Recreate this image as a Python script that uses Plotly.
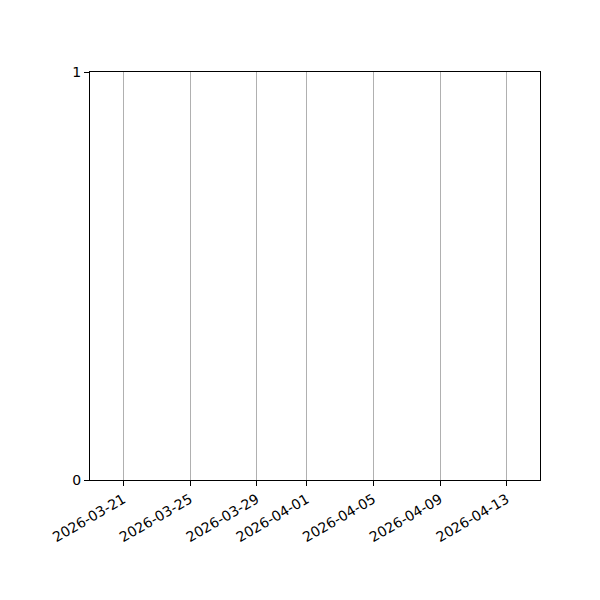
import plotly.graph_objects as go

# tick dates shown on the x axis (matplotlib AutoDateLocator style)
tick_dates = ["2026-03-21", "2026-03-25", "2026-03-29", "2026-04-01",
              "2026-04-05", "2026-04-09", "2026-04-13"]
x_range = ["2026-03-19", "2026-04-15"]
y_ticks = [0, 1]

# the chart has no data marks, only the empty date axis
series_x = []
series_y = []

fig = go.Figure()
fig.add_trace(go.Scatter(x=series_x, y=series_y, mode="lines", showlegend=False))

fig.update_layout(
    width=600,
    height=600,
    margin=dict(l=82, r=68, t=64, b=128),
    plot_bgcolor="white",
    paper_bgcolor="white",
    font=dict(family="DejaVu Sans", size=14, color="black"),
    showlegend=False,
)

fig.update_xaxes(
    type="date",
    range=x_range,
    tickvals=tick_dates,
    ticktext=tick_dates,
    tickangle=-30,
    showgrid=True,
    gridcolor="#b0b0b0",
    gridwidth=1,
    showline=True,
    linecolor="black",
    linewidth=1,
    mirror=True,
    ticks="outside",
    ticklen=5,
    tickcolor="black",
    zeroline=False,
)

fig.update_yaxes(
    range=[0, 1],
    tickvals=y_ticks,
    ticktext=[str(v) for v in y_ticks],
    showgrid=False,
    showline=True,
    linecolor="black",
    linewidth=1,
    mirror=True,
    ticks="outside",
    ticklen=5,
    tickcolor="black",
    ticklabelstandoff=0,
    zeroline=False,
)

fig.write_html("out.html")
